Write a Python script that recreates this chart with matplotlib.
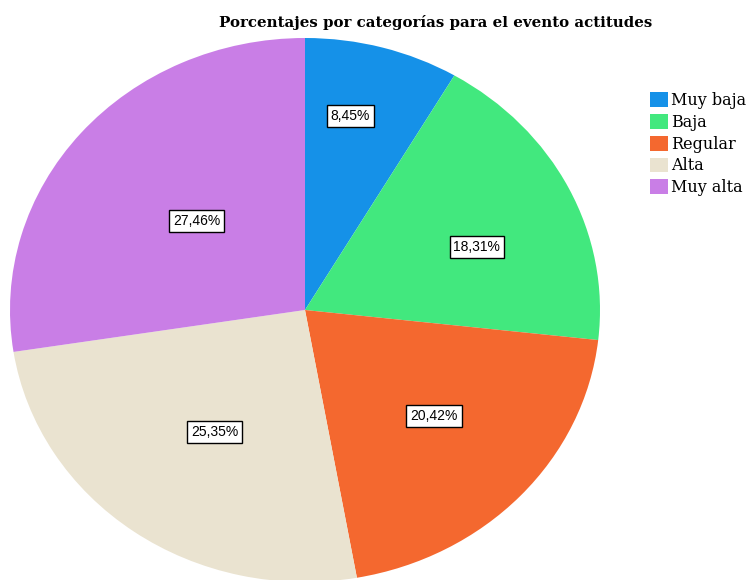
import matplotlib
matplotlib.use('Agg')
import matplotlib.pyplot as plt
import numpy as np

# data
categorias = ['Muy baja', 'Baja', 'Regular', 'Alta', 'Muy alta']
porcentajes = [8.45, 18.31, 20.42, 25.35, 27.46]
colores = ['#1591e8', '#42e87e', '#f4682f', '#eae3d0', '#c97ee6']
titulo = 'Porcentajes por categorías para el evento actitudes'

# label placement: radius fraction and angular shift (deg) from wedge middle
label_r = [0.73, 0.627, 0.585, 0.544, 0.492]
label_shift = [3.1, -4.9, 1.5, 1.2, -1.0]

W, H = 746, 580
fig = plt.figure(figsize=(W / 100, H / 100), dpi=100, facecolor='w')

# pie is slightly elliptical in the reference
cx, cy, rx, ry = 305, 310, 295, 272
ax = fig.add_axes([(cx - rx) / W, (H - cy - ry) / H, 2 * rx / W, 2 * ry / H])

wedges, _ = ax.pie(porcentajes, colors=colores, startangle=90, counterclock=False,
                   wedgeprops=dict(linewidth=0))
ax.set_aspect('auto')
ax.set_xlim(-1, 1)
ax.set_ylim(-1, 1)
ax.axis('off')

for w, p, r, s in zip(wedges, porcentajes, label_r, label_shift):
    ang = np.deg2rad((w.theta1 + w.theta2) / 2.0 + s)
    txt = ('%.2f%%' % p).replace('.', ',')
    ax.text(r * np.cos(ang), r * np.sin(ang), txt,
            ha='center', va='center', fontsize=10, family='Liberation Sans',
            bbox=dict(boxstyle='square,pad=0.28', facecolor='white',
                      edgecolor='black', linewidth=1.0))

fig.text(436 / W, 1 - 22 / H, titulo, ha='center', va='center',
         fontsize=10.8, fontweight='bold', family='DejaVu Serif')

leg = fig.legend(wedges, categorias, loc='upper left',
                 bbox_to_anchor=(650 / W, 1 - 92 / H), frameon=False,
                 prop={'family': 'DejaVu Serif', 'size': 11.5},
                 handlelength=1.1, handleheight=1.05, handletextpad=0.2,
                 labelspacing=0.3, borderaxespad=0, borderpad=0)

fig.savefig('out.png', dpi=100)
